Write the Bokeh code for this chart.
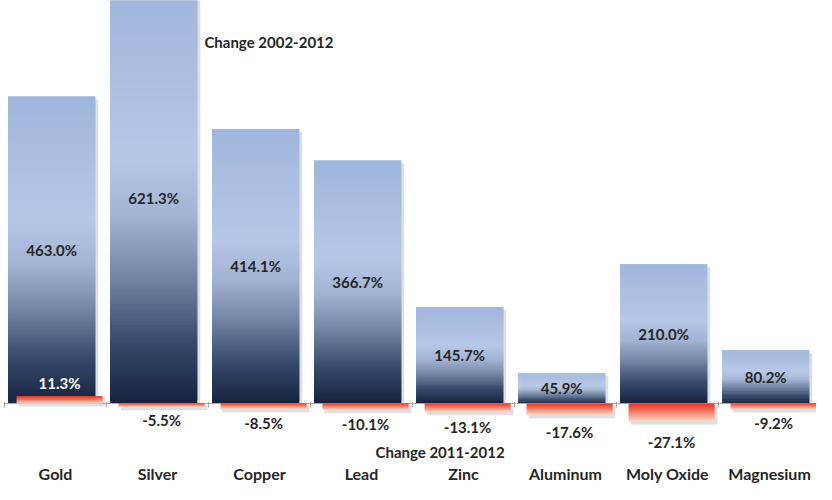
import numpy as np
from bokeh.plotting import figure
from bokeh.models import Range1d, Label, ColumnDataSource
from bokeh.core.properties import value
from bokeh.embed import file_html
from bokeh.resources import INLINE

# ---------------- data ----------------
categories = ["Gold", "Silver", "Copper", "Lead", "Zinc", "Aluminum", "Moly Oxide", "Magnesium"]
change_2002_2012 = [463.0, 621.3, 414.1, 366.7, 145.7, 45.9, 210.0, 80.2]
change_2011_2012 = [11.3, -5.5, -8.5, -10.1, -13.1, -17.6, -27.1, -9.2]
series_long_name = "Change 2002-2012"
series_short_name = "Change 2011-2012"

# ---------------- layout ----------------
W, H = 816, 484
CW = 102.0                       # pixels per category
X0 = 4.0                         # pixel position of the first category edge
x_start, x_end = -X0 / CW, (W - X0) / CW
YS = 0.663                       # pixels per percentage point
BASE = 403.0                     # pixel row of the zero line
y_end = BASE / YS
y_start = -(H - BASE) / YS
PX = 1.0 / YS                    # data units per pixel (y)
XPX = 1.0 / CW                   # data units per pixel (x)

FONT = value("Lato")
DARK = "#262626"

blue_stops = [(0.0, "#A0B6DC"), (0.40, "#B6C7E7"), (0.55, "#A2B3D2"),
              (0.70, "#7284A3"), (0.85, "#364A6C"), (1.0, "#15233E")]
red_stops = [(0.0, "#E2352B"), (0.45, "#F27A63"), (1.0, "#FCDCC9")]


def hex2rgb(h):
    h = h.lstrip("#")
    return np.array([int(h[i:i + 2], 16) for i in (0, 2, 4)], dtype=float)


def grad(stops, t):
    for (p0, c0), (p1, c1) in zip(stops[:-1], stops[1:]):
        if t <= p1:
            f = (t - p0) / (p1 - p0) if p1 > p0 else 0
            c = hex2rgb(c0) * (1 - f) + hex2rgb(c1) * f
            return "#%02x%02x%02x" % tuple(int(round(v)) for v in c)
    return stops[-1][1]


N = 120
BL, BR = 0.035, 0.89      # blue bar extent within a category
RL, RR = 0.12, 0.96       # red bar extent within a category

p = figure(width=W, height=H, x_range=Range1d(x_start, x_end),
           y_range=Range1d(y_start, y_end), output_backend="svg",
           toolbar_location=None, x_axis_location=None, y_axis_location=None,
           min_border=0)
p.grid.visible = False
p.outline_line_color = None
p.background_fill_color = "white"
p.border_fill_color = "white"

n = len(categories)

# shadows
sh = dict(left=[], right=[], top=[], bottom=[])
for i, v in enumerate(change_2002_2012):
    sh["left"].append(i + BL + 3 * XPX)
    sh["right"].append(i + BR + 3 * XPX)
    sh["top"].append(v - 3 * PX)
    sh["bottom"].append(0)
for i, r in enumerate(change_2011_2012):
    sh["left"].append(i + RL + 2 * XPX)
    sh["right"].append(i + RR + 3 * XPX)
    sh["top"].append(max(r, 0) - 2 * PX)
    sh["bottom"].append(min(r, 0) - 3 * PX)
p.quad(source=ColumnDataSource(sh), left="left", right="right", top="top",
       bottom="bottom", fill_color="#9EA3AC", fill_alpha=0.35, line_color=None)

# blue gradient bars (drawn as thin horizontal strips)
bd = dict(left=[], right=[], top=[], bottom=[], color=[])
for i, v in enumerate(change_2002_2012):
    step = v / N
    for k in range(N):
        lo = step * k
        hi = min(step * (k + 2), v)
        t = 1 - (k + 0.5) / N
        bd["left"].append(i + BL)
        bd["right"].append(i + BR)
        bd["bottom"].append(lo)
        bd["top"].append(hi)
        bd["color"].append(grad(blue_stops, t))
p.quad(source=ColumnDataSource(bd), left="left", right="right", top="top",
       bottom="bottom", fill_color="color", line_color=None)

# baseline and ticks
p.segment(x0=[0], y0=[0], x1=[n], y1=[0], line_color="#A6A6A6", line_width=1)
p.segment(x0=list(range(n + 1)), y0=[1.5 * PX] * (n + 1),
          x1=list(range(n + 1)), y1=[-4 * PX] * (n + 1),
          line_color="#A6A6A6", line_width=1)

# red gradient bars
rd = dict(left=[], right=[], top=[], bottom=[], color=[])
M = 24
for i, r in enumerate(change_2011_2012):
    top, bot = max(r, 0), min(r, 0)
    step = (top - bot) / M
    for k in range(M):
        hi = top - step * k
        lo = max(top - step * (k + 2), bot)
        t = (k + 0.5) / M
        rd["left"].append(i + RL)
        rd["right"].append(i + RR)
        rd["top"].append(hi)
        rd["bottom"].append(lo)
        rd["color"].append(grad(red_stops, t))
p.quad(source=ColumnDataSource(rd), left="left", right="right", top="top",
       bottom="bottom", fill_color="color", line_color=None)

# labels for the long-period change (centre of each bar)
p.text(x=[i + (BL + BR) / 2 for i in range(n)],
       y=[v / 2 for v in change_2002_2012],
       text=["%.1f%%" % v for v in change_2002_2012],
       text_font=FONT, text_font_style="bold", text_font_size="15px",
       text_align="center", text_baseline="middle", text_color=DARK)

# labels for the one-year change
ry, rc = [], []
for r in change_2011_2012:
    if r >= 0:
        ry.append(r * 1.54 + 9 * PX)
        rc.append("white")
    else:
        ry.append(r * 1.54 - 10.4 * PX)
        rc.append(DARK)
p.text(x=[i + (RL + RR) / 2 for i in range(n)], y=ry,
       text=["%.1f%%" % r for r in change_2011_2012],
       text_font=FONT, text_font_style="bold", text_font_size="15px",
       text_align="center", text_baseline="middle", text_color=rc)

# category labels
p.text(x=[i + 0.5 for i in range(n)], y=[-70 * PX] * n, text=categories,
       text_font=FONT, text_font_style="bold", text_font_size="16px",
       text_align="center", text_baseline="middle", text_color=DARK)

# series names
p.add_layout(Label(x=1.96, y=362 * PX, text=series_long_name, text_font="Lato",
                   text_font_style="bold", text_font_size="15px",
                   text_align="left", text_baseline="middle", text_color=DARK))
p.add_layout(Label(x=4.27, y=-48 * PX, text=series_short_name, text_font="Lato",
                   text_font_style="bold", text_font_size="15px",
                   text_align="center", text_baseline="middle", text_color=DARK))

open("out.html", "w").write(file_html(p, INLINE))
